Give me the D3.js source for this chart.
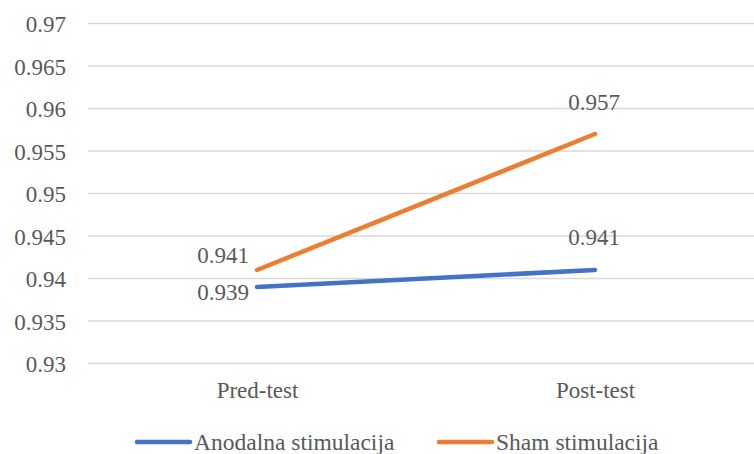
<!DOCTYPE html>
<html>
<head>
<meta charset="utf-8">
<script src="https://cdn.jsdelivr.net/npm/d3@7"></script>
<style>
  svg text { font-family: "Liberation Serif", Tinos, "Times New Roman", serif !important; }
</style>
</head>
<body style="margin:0; background:#fff">
<script>
var categories = ["Pred-test", "Post-test"];
var anodalna = [0.939, 0.941];
var sham = [0.941, 0.957];
var seriesNames = ["Anodalna stimulacija", "Sham stimulacija"];
var yTicks = [0.93, 0.935, 0.94, 0.945, 0.95, 0.955, 0.96, 0.965, 0.97];

var width = 754, height = 454;
var textColor = "#595959";

var svg = d3.select("body").append("svg")
    .attr("width", width)
    .attr("height", height);

var x = d3.scalePoint()
    .domain(categories)
    .range([257, 595]);

var y = d3.scaleLinear()
    .domain([0.93, 0.97])
    .range([363.5, 23.5]);

// gridlines
svg.append("g")
    .selectAll("line")
    .data(yTicks)
    .join("line")
    .attr("x1", 88)
    .attr("x2", width)
    .attr("y1", function(d) { return y(d); })
    .attr("y2", function(d) { return y(d); })
    .attr("stroke", "#d9d9d9")
    .attr("stroke-width", 1.3);

// y axis labels
var yAxis = d3.axisLeft(y)
    .tickValues(yTicks)
    .tickFormat(function(d) { return String(+d.toFixed(3)); })
    .tickSize(0)
    .tickPadding(0);

svg.append("g")
    .attr("transform", "translate(66,0)")
    .call(yAxis)
    .call(function(g) { g.select(".domain").remove(); })
    .selectAll("text")
    .attr("font-size", 23)
    .attr("fill", textColor)
    .attr("dy", "0.35em");

// x axis labels
var xAxis = d3.axisBottom(x).tickSize(0).tickPadding(0);
svg.append("g")
    .attr("transform", "translate(0,398)")
    .call(xAxis)
    .call(function(g) { g.select(".domain").remove(); })
    .selectAll("text")
    .attr("font-size", 23)
    .attr("fill", textColor)
    .attr("y", 0)
    .attr("dy", 0);

var line = d3.line()
    .x(function(d, i) { return x(categories[i]); })
    .y(function(d) { return y(d); });

var colors = ["#4472C4", "#ED7D31"];

svg.append("path")
    .datum(anodalna)
    .attr("d", line)
    .attr("fill", "none")
    .attr("stroke", colors[0])
    .attr("stroke-width", 4.5)
    .attr("stroke-linecap", "round");

svg.append("path")
    .datum(sham)
    .attr("d", line)
    .attr("fill", "none")
    .attr("stroke", colors[1])
    .attr("stroke-width", 4.5)
    .attr("stroke-linecap", "round");

// data labels
function addLabel(val, i, dx, dy, anchor) {
    svg.append("text")
        .attr("x", x(categories[i]) + dx)
        .attr("y", y(val) + dy)
        .attr("text-anchor", anchor)
        .attr("font-size", 23)
        .attr("fill", textColor)
        .text(val.toFixed(3));
}
addLabel(sham[0], 0, -8, -7, "end");
addLabel(anodalna[0], 0, -8, 13, "end");
addLabel(sham[1], 1, -1, -24, "middle");
addLabel(anodalna[1], 1, -1, -25, "middle");

// legend
var legend = svg.append("g");
var legendX = [137, 439];
seriesNames.forEach(function(name, i) {
    legend.append("line")
        .attr("x1", legendX[i])
        .attr("x2", legendX[i] + 53)
        .attr("y1", 442)
        .attr("y2", 442)
        .attr("stroke", colors[i])
        .attr("stroke-width", 4.5)
        .attr("stroke-linecap", "round");
    legend.append("text")
        .attr("x", legendX[i] + 57)
        .attr("y", 450)
        .attr("font-size", 23.5)
        .attr("fill", textColor)
        .text(name);
});
</script>
</body>
</html>
